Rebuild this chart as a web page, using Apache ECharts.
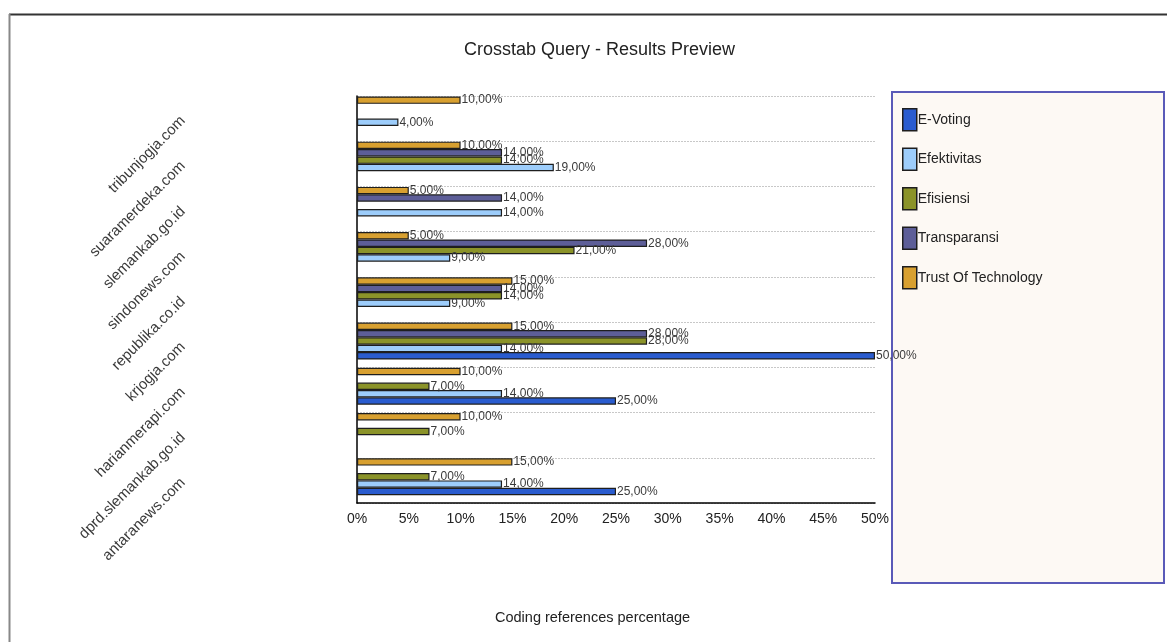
<!DOCTYPE html>
<html>
<head>
<meta charset="utf-8">
<title>Crosstab Query - Results Preview</title>
<script src="https://cdn.jsdelivr.net/npm/echarts@6/dist/echarts.min.js"></script>
<style>
html, body { margin: 0; padding: 0; background: #fff; }
#chart { width: 1167px; height: 642px; }
</style>
</head>
<body>
<div id="chart"></div>
<script>
// sites, top to bottom
const sites = [
    "tribunjogja.com",
    "suaramerdeka.com",
    "slemankab.go.id",
    "sindonews.com",
    "republika.co.id",
    "krjogja.com",
    "harianmerapi.com",
    "dprd.slemankab.go.id",
    "antaranews.com"
];
// percentages per theme ("-" = no bar)
const eVoting      = ["-", "-", "-", "-", "-", 50, 25, "-", 25];
const efektivitas  = [4, 19, 14, 9, 9, 14, 14, "-", 14];
const efisiensi    = ["-", 14, "-", 21, 14, 28, 7, 7, 7];
const transparansi = ["-", 14, 14, 28, 14, 28, "-", "-", "-"];
const trustTech    = [10, 10, 5, 5, 15, 15, 10, 10, 15];
const xTicks = [0, 5, 10, 15, 20, 25, 30, 35, 40, 45, 50];

const legendOrder = ["E-Voting", "Efektivitas", "Efisiensi", "Transparansi", "Trust Of Technology"];
const colors = {
    "E-Voting": "#2a5ccf",
    "Efektivitas": "#9dcdfb",
    "Efisiensi": "#8b9329",
    "Transparansi": "#5d5e98",
    "Trust Of Technology": "#d8a030"
};
const font = "'Liberation Sans', Arial, sans-serif";

/**
 * @description 生成一个柱状系列
 */
function makeBar(name, data) {
    return {
        name: name,
        type: "bar",
        data: data,
        barGap: "0%",
        barCategoryGap: "2%",
        itemStyle: { color: colors[name], borderColor: "#1e1e1e", borderWidth: 1.2 },
        label: {
            show: true,
            position: "right",
            distance: 1,
            color: "#3a3a3a",
            fontFamily: font,
            fontSize: 12,
            formatter: (p) => p.value.toFixed(2).replace(".", ",") + "%"
        },
        z: 3
    };
}

const chart = echarts.init(document.getElementById("chart"));
const series = [
    makeBar("Trust Of Technology", trustTech),
    makeBar("Transparansi", transparansi),
    makeBar("Efisiensi", efisiensi),
    makeBar("Efektivitas", efektivitas),
    makeBar("E-Voting", eVoting),
    // empty slot under each group
    { name: "_pad", type: "bar", data: sites.map(() => "-"), barGap: "0%", barCategoryGap: "2%" }
];

chart.setOption({
    animation: false,
    backgroundColor: "#fff",
    title: {
        text: "Crosstab Query - Results Preview",
        left: 459,
        top: 36,
        textStyle: { fontFamily: font, fontSize: 18, fontWeight: "normal", color: "#222" }
    },
    legend: {
        data: legendOrder,
        orient: "vertical",
        left: 897,
        top: 103,
        itemWidth: 14,
        itemHeight: 22,
        itemGap: 16,
        icon: "rect",
        selectedMode: false,
        itemStyle: { borderColor: "#1e1e1e", borderWidth: 1.5 },
        textStyle: { fontFamily: font, fontSize: 14, color: "#222", padding: [0, 0, 0, -4] }
    },
    grid: { left: 357, right: 292, top: 96, height: 407, containLabel: false },
    xAxis: {
        type: "value",
        min: 0,
        max: 50,
        interval: 5,
        axisLine: { show: true, lineStyle: { color: "#000", width: 1.5 } },
        axisTick: { show: false },
        splitLine: { show: false },
        axisLabel: {
            margin: 9,
            color: "#222",
            fontFamily: font,
            fontSize: 14,
            formatter: (v) => (xTicks.indexOf(v) >= 0 ? v + "%" : "")
        }
    },
    yAxis: {
        type: "category",
        data: sites,
        inverse: true,
        axisLine: { show: true, lineStyle: { color: "#000", width: 1.5 } },
        axisTick: { show: false },
        splitLine: { show: true, lineStyle: { color: "#c8c8c8", type: [2, 1], width: 1 } },
        axisLabel: {
            rotate: 45,
            margin: 174,
            color: "#3a3a3a",
            fontFamily: font,
            fontSize: 15
        }
    },
    graphic: [
        // outer frame
        { type: "line", shape: { x1: 9, y1: 14.5, x2: 1167, y2: 14.5 }, style: { stroke: "#333", lineWidth: 2 } },
        { type: "line", shape: { x1: 9.5, y1: 14, x2: 9.5, y2: 642 }, style: { stroke: "#888", lineWidth: 2 } },
        // legend box
        {
            type: "rect",
            shape: { x: 892, y: 92, width: 272, height: 491 },
            style: { fill: "#fdf9f4", stroke: "#5a5ab8", lineWidth: 2 },
            z: -1
        },
        {
            type: "text",
            left: 495,
            top: 610,
            style: { text: "Coding references percentage", font: "14.5px " + font, fill: "#222" }
        }
    ],
    series: series
});
</script>
</body>
</html>
